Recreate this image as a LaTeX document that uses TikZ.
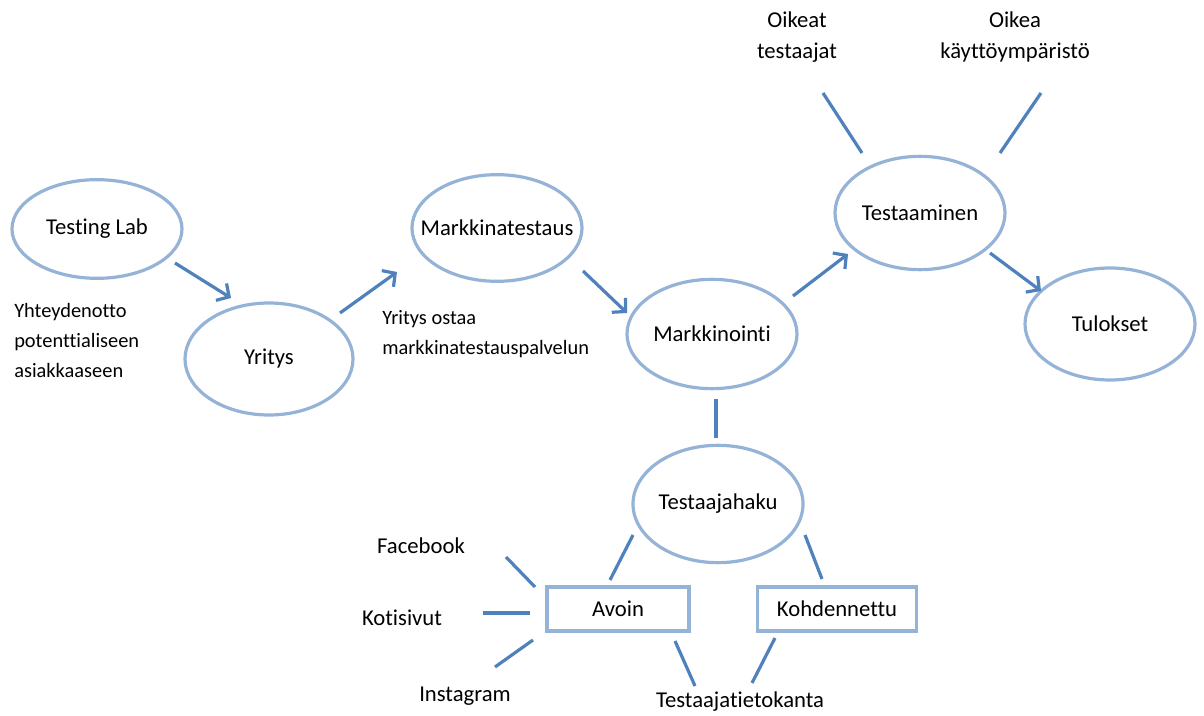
\documentclass[tikz,border=0pt]{standalone}
\usepackage{fontspec}
\setmainfont[Ligatures=NoCommon]{Carlito}
\usetikzlibrary{shapes.geometric,arrows.meta}
\definecolor{ringblue}{RGB}{149,179,215}
\definecolor{lineblue}{RGB}{79,129,189}
\tikzset{
  txt/.style={font=\fontsize{17}{23}\selectfont, text=black, inner sep=0pt},
  note/.style={font=\fontsize{15.3}{22.5}\selectfont, text=black, inner sep=0pt,
               align=left, anchor=north west},
  oval/.style={ellipse, draw=ringblue, line width=2.4pt, fill=white, inner sep=0pt,
               label={[txt]center:#1}},
  box/.style={txt, rectangle, draw=ringblue, line width=2.4pt, minimum height=33pt},
  link/.style={draw=lineblue, line width=2.4pt},
  flow/.style={link, -{Straight Barb[length=7pt,width=15pt,line width=2.4pt]}},
}
\begin{document}
\begin{tikzpicture}[x=0.75pt, y=-0.75pt]
\useasboundingbox (0,0) rectangle (1204,716);

% main process ovals
\node[oval=Testing Lab,     minimum width=127.5pt, minimum height=74pt] (lab)    at (97,229)  {};
\node[oval=Yritys,          minimum width=126pt,   minimum height=84pt] (yritys) at (269,359) {};
\node[oval=Markkinatestaus, minimum width=127.5pt, minimum height=80pt] (mtest)  at (497,228) {};
\node[oval=Markkinointi,    minimum width=127.5pt, minimum height=82pt] (mark)   at (712,334) {};
\node[oval=Testaaminen,     minimum width=127.5pt, minimum height=85pt] (testaa) at (920,213) {};
\node[oval=Tulokset,        minimum width=127.5pt, minimum height=84pt] (tulos)  at (1110,324) {};
\node[oval=Testaajahaku,    minimum width=127.5pt, minimum height=88pt] (haku)   at (718,504) {};

% recruiting channels
\node[box, minimum width=106.5pt] (avoin) at (618,609) {Avoin};
\node[box, minimum width=119pt]   (kohd)  at (837,609) {Kohdennettu};

% free labels
\node[note] (yht)   at (14,303)  {Yhteydenotto\\potenttialiseen\\asiakkaaseen};
\node[note] (ostaa) at (382,310) {Yritys ostaa\\markkinatestauspalvelun};
\node[txt, align=center] (oikeat) at (797,37) {Oikeat\\testaajat};
\node[txt, align=center] (ymp) at (1015,37) {Oikea\\käyttöympäristö};
\node[txt] (fb)    at (421,546) {Facebook};
\node[txt] (koti)  at (402,618) {Kotisivut};
\node[txt] (insta) at (465,696) {Instagram};
\node[txt] (kanta) at (740,702) {Testaajatietokanta};

% connector end points
\coordinate (a1) at (175,263);  \coordinate (a2) at (231,298);
\coordinate (b1) at (340,313);  \coordinate (b2) at (397,272);
\coordinate (c1) at (583,271);  \coordinate (c2) at (627,313);
\coordinate (d1) at (793,296);  \coordinate (d2) at (848,254);
\coordinate (e1) at (990,253);  \coordinate (e2) at (1041,291);
\coordinate (f1) at (716,399);  \coordinate (f2) at (716,438);
\coordinate (g1) at (823,93);   \coordinate (g2) at (862,153);
\coordinate (h1) at (1041,93);  \coordinate (h2) at (1000,153);
\coordinate (i1) at (633,535);  \coordinate (i2) at (610,580);
\coordinate (j1) at (805,535);  \coordinate (j2) at (822,579);
\coordinate (k1) at (675,641);  \coordinate (k2) at (695,686);
\coordinate (l1) at (775,638);  \coordinate (l2) at (752,683);
\coordinate (m1) at (506,557);  \coordinate (m2) at (535,587);
\coordinate (n1) at (483,613);  \coordinate (n2) at (530,613);
\coordinate (o1) at (495,667);  \coordinate (o2) at (533,640);

% process flow
\draw[flow] (a1) -- (a2);
\draw[flow] (b1) -- (b2);
\draw[flow] (c1) -- (c2);
\draw[flow] (d1) -- (d2);
\draw[flow] (e1) -- (e2);

% plain links
\draw[link] (f1) -- (f2);
\draw[link] (g1) -- (g2);
\draw[link] (h1) -- (h2);
\draw[link] (i1) -- (i2);
\draw[link] (j1) -- (j2);
\draw[link] (k1) -- (k2);
\draw[link] (l1) -- (l2);
\draw[link] (m1) -- (m2);
\draw[link] (n1) -- (n2);
\draw[link] (o1) -- (o2);
\end{tikzpicture}
\end{document}
